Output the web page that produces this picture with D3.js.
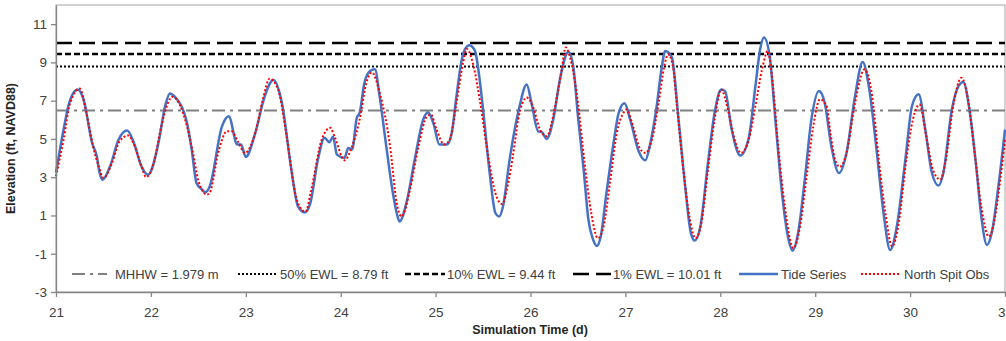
<!DOCTYPE html>
<html>
<head>
<meta charset="utf-8">
<script src="https://cdn.jsdelivr.net/npm/d3@7"></script>
<style>
  body { margin: 0; background: #fff; }
  text { font-family: "Liberation Sans", Arial, sans-serif; }
</style>
</head>
<body>
<div id="chart-area"></div>
<script>
// simulated tide (blue) and observed tide at North Spit (red), time in days
const tideTime = [21.00,21.08,21.13,21.18,21.23,21.29,21.38,21.43,21.46,21.49,21.57,21.66,21.75,21.82,21.90,21.97,
  22.08,22.15,22.20,22.25,22.38,22.43,22.48,22.54,22.57,22.62,22.75,22.82,22.91,22.95,23.00,23.10,23.20,23.29,23.38,
  23.48,23.55,23.62,23.68,23.76,23.83,23.88,23.92,23.96,24.04,24.08,24.12,24.17,24.20,24.25,24.31,24.36,24.41,24.48,
  24.55,24.59,24.62,24.70,24.78,24.87,24.92,24.98,25.04,25.12,25.17,25.22,25.27,25.31,25.355,25.415,25.45,25.50,25.57,
  25.63,25.67,25.71,25.78,25.88,25.96,26.01,26.08,26.12,26.17,26.24,26.31,26.40,26.45,26.50,26.56,26.61,26.66,26.70,
  26.74,26.80,26.87,26.93,26.99,27.05,27.14,27.21,27.26,27.33,27.38,27.42,27.49,27.56,27.63,27.69,27.73,27.79,27.87,
  27.94,28.01,28.05,28.12,28.21,28.30,28.37,28.42,28.46,28.52,28.58,28.65,28.72,28.76,28.82,28.89,28.96,29.04,29.10,
  29.17,29.25,29.33,29.42,29.50,29.57,29.65,29.72,29.79,29.86,29.95,30.02,30.09,30.16,30.23,30.30,30.35,30.44,30.51,
  30.56,30.63,30.70,30.75,30.81,30.86,30.93,31.00];
const tideElev = [3.24,5.49,6.72,7.38,7.59,7.07,4.80,4.09,3.22,2.87,3.57,4.97,5.44,4.80,3.57,3.13,
  4.80,6.72,7.38,7.21,5.85,4.44,2.70,2.35,2.21,2.52,5.67,6.19,4.71,4.71,4.06,5.32,7.24,8.08,6.89,
  3.40,1.47,1.16,1.65,3.92,5.06,4.83,5.11,4.18,4.01,4.53,4.45,6.11,6.37,7.94,8.55,8.64,7.24,4.62,
  2.17,1.13,0.69,1.82,3.92,6.02,6.40,5.76,4.71,4.71,5.32,7.24,8.99,9.69,9.90,9.60,8.64,6.54,3.22,
  1.13,0.95,1.47,3.92,6.60,7.85,6.89,5.40,5.35,5.00,6.02,8.12,9.55,8.81,6.19,3.40,0.78,-0.27,-0.59,
  -0.10,2.17,4.62,6.37,6.86,6.02,4.36,3.88,4.71,6.72,8.64,9.60,9.25,6.02,2.52,0.08,-0.31,0.43,3.75,
  6.37,7.59,7.50,5.49,4.13,5.06,7.76,9.69,10.30,9.34,6.02,2.17,-0.27,-0.84,0.08,2.87,6.02,7.50,6.89,
  4.62,3.22,4.27,7.24,9.02,7.59,4.27,1.13,-0.80,0.43,3.92,6.72,7.33,5.49,3.22,2.56,3.22,6.54,7.76,
  7.97,6.37,3.40,0.95,-0.54,0.08,2.52,5.49];

const obsTime = [21.00,21.08,21.15,21.25,21.32,21.39,21.45,21.50,21.59,21.67,21.76,21.83,21.90,21.95,
  22.03,22.11,22.18,22.23,22.31,22.38,22.45,22.50,22.59,22.62,22.71,22.80,22.85,22.92,22.99,23.10,23.18,23.25,
  23.34,23.43,23.52,23.59,23.63,23.69,23.80,23.89,23.94,24.04,24.12,24.20,24.27,24.33,24.41,24.52,24.59,24.64,
  24.73,24.82,24.91,24.95,25.01,25.09,25.15,25.22,25.29,25.33,25.40,25.47,25.56,25.63,25.70,25.77,25.85,25.87,
  25.96,26.03,26.10,26.17,26.26,26.33,26.37,26.43,26.50,26.57,26.64,26.71,26.77,26.84,26.91,26.98,27.01,27.08,
  27.15,27.21,27.28,27.35,27.41,27.45,27.50,27.54,27.61,27.68,27.74,27.80,27.87,27.94,28.01,28.08,28.15,28.22,
  28.30,28.37,28.44,28.50,28.54,28.61,28.68,28.77,28.84,28.91,28.98,29.05,29.12,29.16,29.21,29.26,29.33,29.42,
  29.52,29.60,29.67,29.74,29.81,29.88,29.96,30.03,30.10,30.17,30.24,30.32,30.37,30.46,30.54,30.61,30.68,30.75,
  30.83,30.89,30.95,31.00];
const obsElev = [3.05,4.97,6.89,7.63,6.37,4.62,3.57,2.96,3.75,4.88,5.18,4.62,3.57,3.01,
  3.75,5.67,6.89,7.21,6.72,5.67,4.09,2.82,2.09,2.19,4.29,5.40,5.40,4.83,4.27,5.32,7.07,8.15,
  7.59,5.14,2.17,1.30,1.20,2.35,4.97,5.58,5.06,3.88,4.62,6.02,7.94,8.47,7.42,4.62,1.65,0.95,
  2.35,4.62,6.19,6.28,5.49,4.71,4.97,6.89,8.99,9.70,8.81,6.89,3.92,2.17,1.60,2.82,5.32,6.02,
  7.16,6.63,5.49,5.14,6.72,8.64,9.78,8.99,6.89,3.75,1.13,-0.19,0.43,2.82,5.32,6.37,6.54,5.67,
  4.53,4.27,4.97,6.89,8.81,9.43,8.81,6.89,3.40,0.78,-0.19,0.60,3.40,6.02,7.59,6.54,4.97,4.27,
  4.97,6.72,8.64,9.60,8.47,4.62,1.47,-0.71,0.43,3.05,5.67,7.07,6.72,5.32,3.92,3.54,4.27,6.89,
  8.64,7.24,3.92,1.13,-0.62,0.60,3.92,6.02,6.80,5.14,3.40,2.87,3.75,6.89,8.20,7.07,4.27,1.47,
  -0.10,0.78,2.87,4.97];

// reference levels (ft)
const levelNames = ['MHHW = 1.979 m', '50% EWL = 8.79 ft', '10% EWL = 9.44 ft', '1% EWL = 10.01 ft'];
const levelValues = [6.49, 8.79, 9.44, 10.01];

const xTicks = [21, 22, 23, 24, 25, 26, 27, 28, 29, 30, 31];
const yTicks = [-3, -1, 1, 3, 5, 7, 9, 11];

const W = 1006, H = 341;
const margin = {top: 5, right: 1, bottom: 49, left: 56},
      width = W - margin.left - margin.right,
      height = H - margin.top - margin.bottom;

const svg = d3.select('#chart-area').append('svg')
  .attr('width', W)
  .attr('height', H)

svg.append('rect').attr('width', W).attr('height', H).attr('fill', '#fff')

const g = svg.append('g')
  .attr('transform', `translate(${margin.left}, ${margin.top})`)

const x = d3.scaleLinear().domain([21, 31]).range([0, width]);
const y = d3.scaleLinear().domain([-3, 12]).range([height, 0]);

// plot frame
g.append('rect')
  .attr('width', width).attr('height', height)
  .attr('fill', 'none').attr('stroke', '#a6a6a6').attr('stroke-width', 1)

// level line styles
const levelStyle = [
  {color: '#808080', width: 2, dash: '13,5,3,5'},
  {color: '#000', width: 2, dash: '2,2'},
  {color: '#000', width: 2.5, dash: '6,3'},
  {color: '#000', width: 2.5, dash: '16,7'}
];

levelValues.forEach((v, i) => {
  g.append('line')
    .attr('x1', 0).attr('x2', width)
    .attr('y1', y(v)).attr('y2', y(v))
    .attr('stroke', levelStyle[i].color)
    .attr('stroke-width', levelStyle[i].width)
    .attr('stroke-dasharray', levelStyle[i].dash)
})

const line = d3.line().curve(d3.curveMonotoneX)
  .x(d => x(d[0])).y(d => y(d[1]));

g.append('path')
  .datum(tideTime.map((t, i) => [t, tideElev[i]]))
  .attr('d', line)
  .attr('fill', 'none').attr('stroke', '#4472C4').attr('stroke-width', 2.5)
  .attr('stroke-linejoin', 'round')

g.append('path')
  .datum(obsTime.map((t, i) => [t, obsElev[i]]))
  .attr('d', line)
  .attr('fill', 'none').attr('stroke', '#FF0000').attr('stroke-width', 2)
  .attr('stroke-dasharray', '2,2')

// axes (plain hyphen for negatives, as in the original)
const xAxis = g.append('g')
  .attr('transform', `translate(0, ${height})`)
  .call(d3.axisBottom(x).tickValues(xTicks).tickFormat(d => String(d)).tickSize(5).tickSizeOuter(0))
const yAxis = g.append('g')
  .call(d3.axisLeft(y).tickValues(yTicks).tickFormat(d => String(d)).tickSize(5).tickSizeOuter(0))

;[xAxis, yAxis].forEach(a => {
  a.select('.domain').attr('stroke', '#868686').attr('stroke-width', 1.3)
  a.selectAll('.tick line').attr('stroke', '#868686').attr('stroke-width', 1.3)
  a.selectAll('.tick text').attr('fill', '#404040')
    .style('font-size', '13.5px').style('font-family', '"Liberation Sans", Arial, sans-serif')
})
xAxis.selectAll('.tick text').attr('dy', '1.25em')
yAxis.selectAll('.tick text').attr('x', -9)

// axis titles
svg.append('text')
  .attr('transform', `translate(15, ${margin.top + height / 2}) rotate(-90)`)
  .attr('text-anchor', 'middle')
  .attr('font-size', 12.5).attr('font-weight', 'bold').attr('fill', '#262626')
  .text('Elevation (ft, NAVD88)')

svg.append('text')
  .attr('x', 530).attr('y', 334)
  .attr('text-anchor', 'middle')
  .attr('font-size', 12.5).attr('font-weight', 'bold').attr('fill', '#262626')
  .text('Simulation Time (d)')

// legend
const legendItems = [
  {label: levelNames[0], ...levelStyle[0], x0: 72, x1: 107, tx: 115},
  {label: levelNames[1], ...levelStyle[1], x0: 238, x1: 277, tx: 280},
  {label: levelNames[2], ...levelStyle[2], x0: 405, x1: 445, tx: 447},
  {label: levelNames[3], ...levelStyle[3], x0: 573, x1: 611, tx: 613},
  {label: 'Tide Series', color: '#4472C4', width: 2.5, dash: null, x0: 739, x1: 778, tx: 781},
  {label: 'North Spit Obs', color: '#FF0000', width: 2, dash: '2,2', x0: 861, x1: 901, tx: 904}
];
const ly = 274;
const leg = svg.append('g')
legendItems.forEach(d => {
  leg.append('line')
    .attr('x1', d.x0).attr('x2', d.x1).attr('y1', ly).attr('y2', ly)
    .attr('stroke', d.color).attr('stroke-width', d.width)
    .attr('stroke-dasharray', d.dash)
  leg.append('text')
    .attr('x', d.tx).attr('y', ly + 5)
    .attr('font-size', 13).attr('fill', '#404040')
    .text(d.label)
})
</script>
</body>
</html>
